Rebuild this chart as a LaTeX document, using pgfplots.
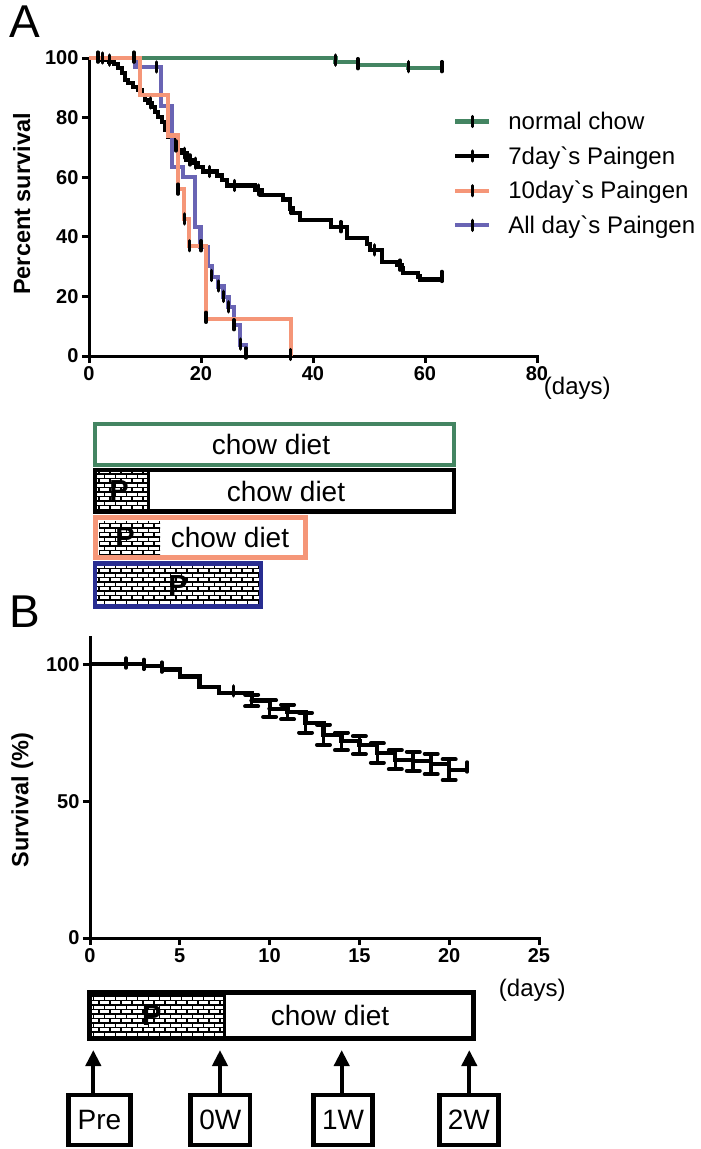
\documentclass[border=0pt]{standalone}
\usepackage{pgfplots}
\pgfplotsset{compat=1.18}
\usepackage{fontspec}
\setmainfont{Liberation Sans}[Ligatures=TeXOff]
\usetikzlibrary{patterns,arrows.meta}

\definecolor{cgreen}{RGB}{68,133,98}
\definecolor{corange}{RGB}{245,150,120}
\definecolor{cpurple}{RGB}{105,100,180}
\definecolor{cnavy}{RGB}{40,45,145}

\pgfdeclarepatternformonly{mybricks}{\pgfqpoint{-1pt}{-1pt}}{\pgfqpoint{12pt}{10pt}}{\pgfqpoint{11pt}{9pt}}{%
 \pgfsetlinewidth{1.5pt}%
 \pgfpathmoveto{\pgfqpoint{-1pt}{0pt}}\pgfpathlineto{\pgfqpoint{12pt}{0pt}}%
 \pgfpathmoveto{\pgfqpoint{-1pt}{4.5pt}}\pgfpathlineto{\pgfqpoint{12pt}{4.5pt}}%
 \pgfpathmoveto{\pgfqpoint{0pt}{0pt}}\pgfpathlineto{\pgfqpoint{0pt}{4.5pt}}%
 \pgfpathmoveto{\pgfqpoint{5.5pt}{4.5pt}}\pgfpathlineto{\pgfqpoint{5.5pt}{9pt}}%
 \pgfusepath{stroke}}

\pgfplotstableread{
x y
0 100
8.3 97
12.9 84
14.8 63.5
16.8 60.2
18.9 43.4
19.9 36.7
21.3 30.2
21.9 26.6
23.1 23.3
24.0 19.9
24.9 16.5
25.9 10.4
27.0 3.7
28.0 0
}\purpledata

\pgfplotstableread{
x y
0 100
9.1 87.5
14.1 74
15.9 56
17.0 46
17.8 37
20.9 12.5
36.0 0
}\orangedata

\pgfplotstableread{
x y
0 100
44 98.6
48 97.6
57 96.6
63 96.6
}\greendata

\pgfplotstableread{
x y
0 100
2.0 99.3
3.6 98.6
4.4 97.9
5.2 96.6
5.9 95.0
6.4 92.6
7.0 91.6
7.9 90.3
8.75 89.3
9.5 87.6
10.0 85.9
10.5 84.9
11.25 83.6
11.8 81.9
12.3 80.2
13.0 78.5
13.6 75.8
14.1 73.5
14.8 72.5
15.3 70.5
15.8 69.0
16.5 68.0
17.4 65.8
18.6 64.7
19.5 63.5
20.4 61.9
22.8 60.6
23.7 59.1
24.6 57.2
29.6 55.7
30.8 54.0
34.7 52.5
35.9 49.5
36.4 47.9
37.7 45.6
43.2 43.4
46.0 39.5
49.6 37.5
50.2 35.6
52.3 31.6
55.0 30.5
55.8 29.4
56.1 27.8
58.8 26.7
59.1 25.7
63.0 25.7
}\blackdata

\pgfplotstableread{
x y
0 100
3 99.3
4 98.1
5 95.6
6.1 91.6
7.2 89.6
9 86.8
10 83.8
11 82.6
12 78.7
13 74.3
14 71.9
15 70.5
16 67.6
17 65.2
18 64.6
19 63.6
20 61.5
21 61.5
}\bdata

\pgfplotstableread{
x y e
9 86.8 2.1
10 83.8 3.0
11 82.6 2.7
12 78.7 3.6
13 74.3 3.7
14 71.9 3.2
15 70.5 3.3
16 67.6 3.5
17 65.2 3.5
18 64.6 3.5
19 63.6 3.7
20 61.5 3.8
}\berr

\pgfplotsset{
  km/.style={scale only axis, axis x line*=bottom, axis y line*=left,
    axis line style={-, line width=3pt, line cap=rect},
    tick align=outside, major tick length=7pt,
    every tick/.style={black, line width=3pt},
    tick label style={font=\bfseries\fontsize{20}{24}\selectfont},
    /pgf/number format/assume math mode=true,
    label style={font=\bfseries\fontsize{23.5}{27}\selectfont},
    clip=false},
  censor/.style={only marks, mark=|, mark size=5pt, forget plot,
    mark options={black, line width=3.4pt, line cap=round}},
  curve/.style={const plot, line width=4.2pt, forget plot, line join=miter}
}

\newcommand{\legimg}[1]{\draw[#1,line width=4.2pt] (0pt,0pt)--(34pt,0pt); \draw[black,line width=3.4pt,line cap=round] (17pt,-5pt)--(17pt,5pt);}

\begin{document}
\begin{tikzpicture}
\useasboundingbox (0,0) rectangle (701pt,-1149pt);

\begin{axis}[km, at={(89pt,-356pt)}, anchor=south west, width=448pt, height=298pt,
  xmin=0, xmax=80, ymin=0, ymax=100,
  xtick={0,20,40,60,80}, ytick={0,20,40,60,80,100},
  ylabel={Percent survival}, xlabel={(days)},
  ylabel style={at={(axis description cs:-0.150,0.51)}, anchor=center},
  xlabel style={at={(axis description cs:1.090,-0.107)}, anchor=center, font=\fontsize{24}{28}\selectfont},
  legend style={draw=none, fill=none, at={(0.8125,0.826)}, anchor=north west,
    font=\fontsize{24}{28}\selectfont, row sep=11.5pt, column sep=15pt,
    inner sep=0pt, cells={anchor=west}},
  legend cell align=left]
\addplot[curve, cgreen] table[x=x,y=y] {\greendata};
\addplot[curve, black] table[x=x,y=y] {\blackdata};
\addplot[curve, cpurple] table[x=x,y=y] {\purpledata};
\addplot[curve, corange] table[x=x,y=y] {\orangedata};
% censor marks
\addplot[censor] coordinates {(44,99.3) (48,98.1) (57,97.1) (63,97.1)};
\addplot[censor] coordinates {(1.6,100.3) (2.4,100) (3.7,99.3) (8,100.3)
 (11,84.9) (15.5,70.5) (17,68) (18,65.8) (19,64.7) (21.5,61.9) (26,57.2)
 (30.3,55.7) (36,49.5) (45,43.4) (51,35.6) (55.5,30.5) (63,26.7)};
\addplot[censor] coordinates {(15.9,56) (17.0,46) (17.9,37) (20.9,13) (36,0.5)};
\addplot[censor] coordinates {(12.1,97) (20,37) (21.9,27) (23.1,23.5) (24.0,20) (24.9,16.5) (25.9,10.5) (27,4) (28,1)};
% legend
\addlegendimage{legend image code/.code={\legimg{cgreen}}}
\addlegendentry{normal chow}
\addlegendimage{legend image code/.code={\legimg{black}}}
\addlegendentry{7day`s Paingen}
\addlegendimage{legend image code/.code={\legimg{corange}}}
\addlegendentry{10day`s Paingen}
\addlegendimage{legend image code/.code={\legimg{cpurple}}}
\addlegendentry{All day`s Paingen}
\end{axis}

\begin{axis}[km, at={(90pt,-938pt)}, anchor=south west, width=449pt, height=301pt,
  xmin=0, xmax=25, ymin=0, ymax=110,
  xtick={0,5,10,15,20,25}, ytick={0,50,100},
  ylabel={Survival (\%)}, xlabel={(days)},
  ylabel style={at={(axis description cs:-0.151,0.458)}, anchor=center},
  xlabel style={at={(axis description cs:0.985,-0.173)}, anchor=center, font=\fontsize{24}{28}\selectfont}]
\addplot[curve, black] table[x=x,y=y] {\bdata};
\addplot[only marks, mark=none, black, forget plot,
  error bars/.cd, y dir=both, y explicit,
  error bar style={black, line width=3.6pt},
  error mark options={rotate=90, black, mark size=6.5pt, line width=4pt, line cap=round}]
  table[x=x,y=y,y error=e] {\berr};
\addplot[censor] coordinates {(2,100.5) (3,100) (4,99) (8,90.3) (21,62.5)};
\end{axis}

\begin{scope}[x=1pt,y=-1pt]
\node[font=\fontsize{46}{46}\selectfont] at (25,22) {A};
\node[font=\fontsize{46}{46}\selectfont] at (25,612) {B};
% Panel A diet bars
\draw[cgreen, line width=4.5pt] (95,424) rectangle (454,465);
\node[font=\fontsize{28}{30}\selectfont] at (271,444) {chow diet};

\fill[white] (95,470) rectangle (148,511.7);
\fill[pattern=mybricks, pattern color=black] (95,470) rectangle (148,511.7);
\draw[black, line width=4.5pt] (95,470) rectangle (454,511.7);
\draw[black, line width=3pt] (148,470) -- (148,511.7);
\node[font=\bfseries\fontsize{29}{30}\selectfont] at (119,491) {P};
\node[font=\fontsize{28}{30}\selectfont] at (286,491) {chow diet};

\fill[pattern=mybricks, pattern color=black] (99,521) rectangle (160,554);
\draw[corange, line width=5pt] (95,517) rectangle (305.7,557.7);
\node[font=\bfseries\fontsize{29}{30}\selectfont] at (125,538) {P};
\node[font=\fontsize{28}{30}\selectfont] at (230,537) {chow diet};

\fill[pattern=mybricks, pattern color=black] (95,563.3) rectangle (261,606.7);
\draw[cnavy, line width=4.5pt] (95,563.3) rectangle (261,606.7);
\node[font=\bfseries\fontsize{29}{30}\selectfont] at (178,586) {P};

% Panel B bar
\fill[pattern=mybricks, pattern color=black] (89.3,992.7) rectangle (224,1038.3);
\draw[black, line width=4.5pt] (89.3,992.7) rectangle (473.3,1038.3);
\draw[black, line width=3pt] (224,992.7) -- (224,1038.3);
\node[font=\bfseries\fontsize{29}{30}\selectfont] at (151.7,1016) {P};
\node[font=\fontsize{28}{30}\selectfont] at (330,1015) {chow diet};

% arrows and time labels
\foreach \xx/\lab/\bl/\br in {93.3/Pre/68.3/130.7, 220/0W/190.7/250, 341.7/1W/313.3/372.7, 469.3/2W/439.3/498.3}{
  \draw[line width=4pt, -{Triangle[width=15pt,length=16pt]}] (\xx,1093) -- (\xx,1050);
  \draw[line width=4.5pt] (\bl,1095) rectangle (\br,1145);
  \node[font=\fontsize{28}{30}\selectfont] at ({(\bl+\br)/2},1120) {\lab};
}
\end{scope}
\end{tikzpicture}
\end{document}
